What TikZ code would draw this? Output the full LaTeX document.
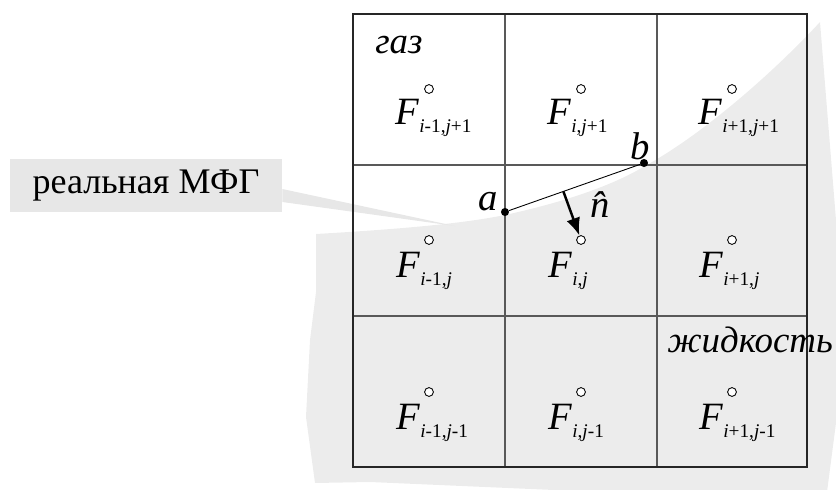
\documentclass[tikz,border=0pt]{standalone}
\usepackage{fontspec}
\setmainfont{Liberation Serif}
\usepackage{tikz}
\usetikzlibrary{calc,positioning,arrows.meta}
\newcommand{\Fcell}[1]{\textit{F}\raisebox{-4.8pt}{\fontsize{11}{11}\selectfont #1}}
\definecolor{liquid}{RGB}{236,236,236}
\definecolor{calloutgray}{RGB}{231,231,231}
\tikzset{
  cellline/.style={black!65, line width=0.8pt},
  outerline/.style={black!85, line width=0.9pt},
  cdot/.style={circle, draw=black, fill=white, line width=0.5pt, inner sep=0pt, minimum size=5pt},
  ptdot/.style={circle, fill=black, inner sep=0pt, minimum size=4.6pt},
  flabel/.style={anchor=base west, inner sep=0pt, font=\fontsize{22}{22}\selectfont},
  ptlabel/.style={inner sep=0pt, font=\fontsize{22}{22}\selectfont\itshape},
  phaselabel/.style={anchor=base west, inner sep=0pt, font=\fontsize{21}{21}\selectfont\itshape},
  callout/.style={fill=calloutgray, minimum width=5.44cm, minimum height=1.06cm,
                  inner sep=0pt, font=\fontsize{20.5}{20.5}\selectfont},
  nvec/.style={line width=1.4pt, -{Latex[length=10pt,width=8pt]}},
}
\begin{document}
\begin{tikzpicture}[x=0.02cm, y=-0.02cm]
  \useasboundingbox (0,0) rectangle (836,490);
  % liquid region
  \fill[liquid] (316,234) .. controls (420,228) and (470,222) .. (505,215)
    .. controls (560,203) and (610,187) .. (645,166)
    .. controls (700,136) and (770,76) .. (820,22)
    -- (836,220) -- (836,423) -- (827,492) -- (600,492) -- (370,482)
    -- (315,483) -- (306,417) -- (310,340) -- (316,292) -- cycle;
  % callout
  \node[callout] (mfg) at (146,185.5) {реальная МФГ};
  \coordinate (tip) at (455,226);
  \fill[calloutgray] (mfg.east |- 0,189) -- (tip) -- (mfg.east |- 0,202) -- cycle;
  % grid
  \draw[cellline] (505,14) -- (505,467) (657,14) -- (657,467)
                  (353,165) -- (807,165) (353,316) -- (807,316);
  \draw[outerline] (353,14) rectangle (807,467);
  % cell centres
  \foreach \i/\x in {1/429,2/581,3/732}
    \foreach \j/\y in {1/89,2/240,3/392}
      \node[cdot] (c\i\j) at (\x,\y) {};
  \node[flabel] (f11) at ($(c11)+(-34,35)$) {\Fcell{\textit{i}-1,\textit{j}+1}};
  \node[flabel] (f21) at ($(c21)+(-34,35)$) {\Fcell{\textit{i},\textit{j}+1}};
  \node[flabel] (f31) at ($(c31)+(-34,35)$) {\Fcell{\textit{i}+1,\textit{j}+1}};
  \node[flabel] (f12) at ($(c12)+(-33,37)$) {\Fcell{\textit{i}-1,\textit{j}}};
  \node[flabel] (f22) at ($(c22)+(-33,37)$) {\Fcell{\textit{i},\textit{j}}};
  \node[flabel] (f32) at ($(c32)+(-33,37)$) {\Fcell{\textit{i}+1,\textit{j}}};
  \node[flabel] (f13) at ($(c13)+(-33,37)$) {\Fcell{\textit{i}-1,\textit{j}-1}};
  \node[flabel] (f23) at ($(c23)+(-33,37)$) {\Fcell{\textit{i},\textit{j}-1}};
  \node[flabel] (f33) at ($(c33)+(-33,37)$) {\Fcell{\textit{i}+1,\textit{j}-1}};
  % phases
  \node[phaselabel] (gas) at (375,53) {газ};
  \node[phaselabel] (liq) at (667,352) {жидкость};
  % interface segment and normal
  \node[ptdot] (a) at (505,212) {};
  \node[ptdot] (b) at (644,163) {};
  \draw[line width=0.5pt] (a) -- (b);
  \node[ptlabel] (alab) at (488,202) {a};
  \node[ptlabel] (blab) at (640,146) {b};
  \node[ptlabel] (nlab) at (600,205) {\^{n}};
  \draw[nvec] ($(a)!0.42!(b)$) -- (c22);
\end{tikzpicture}
\end{document}
